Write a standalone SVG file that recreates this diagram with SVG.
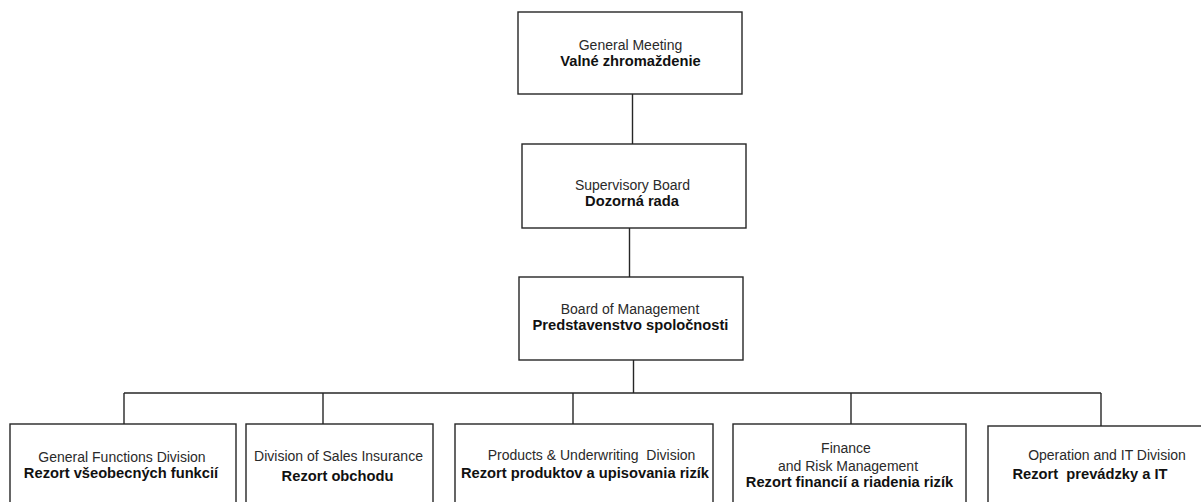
<svg xmlns="http://www.w3.org/2000/svg" width="1201" height="502" viewBox="0 0 1201 502">
<style>
.box{fill:#fff;stroke:#262626;stroke-width:1.4}
.con{fill:none;stroke:#262626;stroke-width:1.4}
.en{font-family:"Liberation Sans",Arial,sans-serif;font-size:14px;fill:#2a2a2a;text-anchor:middle}
.sk{font-family:"Liberation Sans",Arial,sans-serif;font-size:14.7px;font-weight:bold;fill:#111;text-anchor:middle}
</style>
<rect width="1201" height="502" fill="#fff"/>
<g id="connectors">
<line class="con" x1="632.5" y1="94" x2="632.5" y2="144"/>
<line class="con" x1="629.5" y1="228" x2="629.5" y2="277"/>
<line class="con" x1="633.5" y1="360" x2="633.5" y2="393"/>
<line class="con" x1="124" y1="393" x2="1101" y2="393"/>
<line class="con" x1="124" y1="393" x2="124" y2="424"/>
<line class="con" x1="323" y1="393" x2="323" y2="424"/>
<line class="con" x1="573" y1="393" x2="573" y2="424"/>
<line class="con" x1="851" y1="393" x2="851" y2="424"/>
<line class="con" x1="1101" y1="393" x2="1101" y2="426"/>
</g>
<g id="general-meeting">
<rect class="box" x="518" y="12" width="224" height="82"/>
<text class="en" x="630.5" y="50">General Meeting</text>
<text class="sk" x="630.5" y="66">Valné zhromaždenie</text>
</g>
<g id="supervisory-board">
<rect class="box" x="522" y="144" width="224" height="84"/>
<text class="en" x="632.5" y="190">Supervisory Board</text>
<text class="sk" x="632" y="206">Dozorná rada</text>
</g>
<g id="board-of-management">
<rect class="box" x="519" y="277" width="224" height="83"/>
<text class="en" x="630" y="314">Board of Management</text>
<text class="sk" x="630.5" y="330">Predstavenstvo spoločnosti</text>
</g>
<g id="general-functions">
<rect class="box" x="10" y="424" width="226" height="90"/>
<text class="en" x="122" y="462">General Functions Division</text>
<text class="sk" x="121" y="478">Rezort všeobecných funkcií</text>
</g>
<g id="sales-insurance">
<rect class="box" x="246" y="424" width="187" height="90"/>
<text class="en" x="338.5" y="461">Division of Sales Insurance</text>
<text class="sk" x="337.5" y="481">Rezort obchodu</text>
</g>
<g id="products-underwriting">
<rect class="box" x="455" y="424" width="258" height="90"/>
<text class="en" x="591.5" y="460" xml:space="preserve">Products &amp; Underwriting  Division</text>
<text class="sk" x="585" y="478">Rezort produktov a upisovania rizík</text>
</g>
<g id="finance-risk">
<rect class="box" x="733" y="424" width="233" height="90"/>
<text class="en" x="846" y="453">Finance</text>
<text class="en" x="848" y="471">and Risk Management</text>
<text class="sk" x="849.5" y="487">Rezort financií a riadenia rizík</text>
</g>
<g id="operation-it">
<rect class="box" x="988" y="426" width="230" height="90"/>
<text class="en" x="1107" y="460">Operation and IT Division</text>
<text class="sk" x="1090" y="479" xml:space="preserve">Rezort  prevádzky a IT</text>
</g>
</svg>
